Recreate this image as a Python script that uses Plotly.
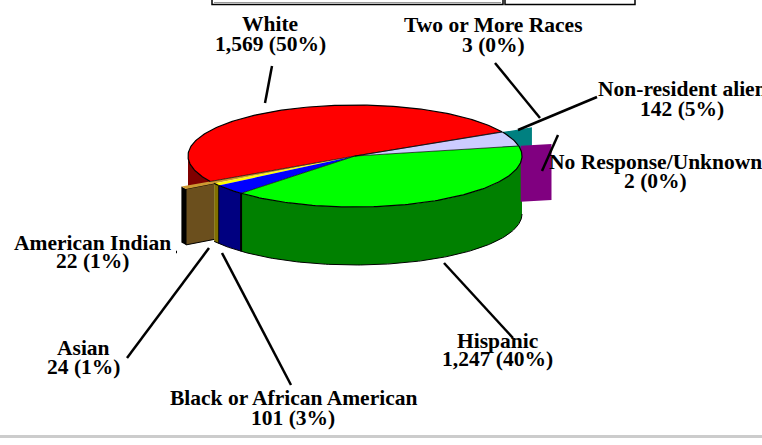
import numpy as np
import plotly.graph_objects as go

# ---- data ----
categories = ["White", "American Indian", "Asian", "Black or African American",
              "Hispanic", "No Response/Unknown", "Non-resident alien", "Two or More Races"]
values = [1569, 22, 24, 101, 1247, 2, 142, 3]

# ---- style ----
top_colors = ["#FF0000", "#CC9933", "#FFFF00", "#0000FF", "#00FF00", "#800080", "#CCCCFF", "#008080"]
side_colors = ["#800000", "#6B4F1D", "#807000", "#000080", "#008000", "#800080", "#8080A0", "#008080"]
radius_factor = [1, 1.2, 1, 1, 1, 1.2, 1, 1.2]

CX, CY, RX, RY, DEPTH, DEPTH_X = 355, 156, 167, 51, 58, 56
START = 28.35
FONT = "Liberation Serif"
FS = 21.5

total = sum(values)
edges = START + np.concatenate([[0], np.cumsum(values)]) / total * 360


def px(theta, r=1.0):
    return CX + r * RX * np.cos(np.radians(theta))


def py(theta, r=1.0, drop=0):
    return CY - r * RY * np.sin(np.radians(theta)) + drop


fig = go.Figure()


def poly(xs, ys, fill, line=None, width=1):
    fig.add_trace(go.Scatter(
        x=list(xs), y=list(ys), mode="lines", fill="toself", fillcolor=fill,
        line=dict(color=line or fill, width=width if line else 0),
        hoverinfo="skip", showlegend=False))


def stroke(xs, ys, width=1, color="#000000"):
    fig.add_trace(go.Scatter(
        x=list(xs), y=list(ys), mode="lines", line=dict(color=color, width=width),
        hoverinfo="skip", showlegend=False))


def radial_face(theta, r0, r1, fill, line=None):
    poly([px(theta, r0), px(theta, r1), px(theta, r1), px(theta, r0)],
         [py(theta, r0), py(theta, r1), py(theta, r1, DEPTH_X), py(theta, r0, DEPTH_X)],
         fill, line)


# back exploded face (Two or More Races)
i_two = categories.index("Two or More Races")
radial_face(edges[i_two], 1.0, radius_factor[i_two], side_colors[i_two])

# cylinder side of the main pie
for i in range(len(values)):
    a, b = max(edges[i], 180), min(edges[i + 1], 360)
    if b <= a or radius_factor[i] != 1:
        continue
    t = np.linspace(a, b, 60)
    xs = np.concatenate([px(t), px(t[::-1])])
    ys = np.concatenate([py(t), py(t[::-1], 1, DEPTH)])
    poly(xs, ys, side_colors[i])
t = np.linspace(edges[2], 360, 160)
stroke(px(t), py(t, 1, DEPTH))
for k, w in ((3, 1), (4, 2)):
    stroke([px(edges[k])] * 2, [py(edges[k]), py(edges[k], 1, DEPTH)], width=w)

# exploded face (No Response/Unknown)
i_nr = categories.index("No Response/Unknown")
radial_face(edges[i_nr], 1.012, radius_factor[i_nr], side_colors[i_nr])

# exploded slab (American Indian)
i_ai = categories.index("American Indian")
a, b, r = edges[i_ai], edges[i_ai + 1], radius_factor[i_ai]
t = np.linspace(a, b, 8)
poly(np.concatenate([px(t, r), px(t[::-1], r)]),
     np.concatenate([py(t, r), py(t[::-1], r, DEPTH_X)]), "#000000")
radial_face(b, 1.0, r, side_colors[i_ai], line="#000000")

# top faces
for i in range(len(values)):
    r = radius_factor[i]
    t = np.linspace(edges[i], edges[i + 1], max(3, int(values[i] / total * 360)))
    poly(np.concatenate([[CX], px(t, r), [CX]]),
         np.concatenate([[CY], py(t, r), [CY]]), top_colors[i])

# thin radial separators and rim outline on the top face
for k in (0, 1, 4, 5, 7):
    stroke([CX, px(edges[k])], [CY, py(edges[k])], width=0.7)
for i in range(len(values)):
    if radius_factor[i] == 1:
        t = np.linspace(edges[i], edges[i + 1], max(3, int(values[i] / total * 360)))
        stroke(px(t), py(t), width=1.2)

# ---- leader lines and frame ----
leaders = [(272, 66, 265, 103), (495, 63, 540, 118), (597, 97, 518, 130),
           (558, 135, 542, 171), (176, 252, 177, 252), (209, 248, 127, 358),
           (222, 253, 291, 385), (444, 263, 513, 338)]
shapes = [dict(type="line", x0=a, y0=b, x1=c, y1=d, line=dict(color="#000000", width=2.5))
          for a, b, c, d in leaders]
shapes += [
    dict(type="rect", x0=212, x1=503, y0=-5, y1=4.5, line=dict(color="#000000", width=1.5), fillcolor="#FFFFFF"),
    dict(type="rect", x0=505, x1=635, y0=-5, y1=4.5, line=dict(color="#000000", width=1.5), fillcolor="#FFFFFF"),
    dict(type="line", x0=214, x1=501, y0=2.5, y1=2.5, line=dict(color="#999999", width=1)),
    dict(type="rect", x0=0, x1=762, y0=435, y1=438, line=dict(width=0), fillcolor="#CCCCCC"),
]

# ---- labels: name line, then value line ----
label_pos = {
    "White": (270, 24, 44), "American Indian": (92, 243, 261), "Asian": (83, 348, 367),
    "Black or African American": (293, 398, 418), "Hispanic": (497, 341, 359),
    "No Response/Unknown": (655, 162, 181), "Non-resident alien": (682, 89, 109),
    "Two or More Races": (493, 25, 45),
}
ann = []
for name, v in zip(categories, values):
    x, y1, y2 = label_pos[name]
    for y, text in ((y1, name), (y2, f"{v:,} ({round(v / total * 100)}%)")):
        ann.append(dict(x=x, y=y, text=text, showarrow=False, xanchor="center", yanchor="middle",
                        font=dict(family=FONT, size=FS, color="#000000", weight=700)))

fig.update_layout(
    width=762, height=445, margin=dict(l=0, r=0, t=0, b=0),
    paper_bgcolor="#FFFFFF", plot_bgcolor="#FFFFFF", showlegend=False,
    xaxis=dict(range=[0, 762], visible=False, fixedrange=True),
    yaxis=dict(range=[445, 0], visible=False, fixedrange=True),
    shapes=shapes, annotations=ann,
)
fig.write_html("out.html", config={"displayModeBar": False},
               post_script="document.body.style.margin='0';document.body.style.overflow='hidden';")
